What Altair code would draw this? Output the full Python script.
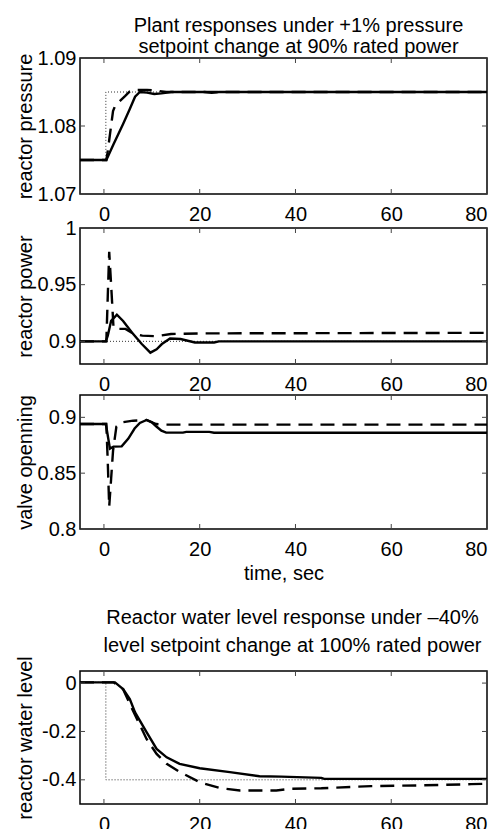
import altair as alt
import pandas as pd

FONT = "Liberation Sans"
TICK_COLOR = "#444444"

# ---------------- shared x axis ----------------
x_domain = [-5, 80]
x_ticks = [0, 20, 40, 60, 80]

# ---------------- panel 1: reactor pressure ----------------
p1_y_domain = [1.07, 1.09]
p1_y_ticks = [1.07, 1.08, 1.09]
p1_solid_t = [-5, 0.5, 2, 4, 5.4, 6.5, 7.5, 9, 10.5, 12, 14, 16, 21, 22.5, 24, 80]
p1_solid_v = [1.075, 1.075, 1.0773, 1.0803, 1.0825, 1.0843, 1.0850, 1.0849, 1.0847, 1.0848, 1.0850,
              1.0850, 1.0850, 1.0849, 1.0850, 1.0850]
p1_dash_t = [-5, 0.5, 0.7, 1.3, 1.9, 2.3, 3.2, 4.4, 5.4, 7, 9, 11, 13, 16, 80]
p1_dash_v = [1.075, 1.075, 1.0758, 1.0790, 1.0822, 1.0829, 1.0836, 1.0844, 1.0851, 1.0853, 1.0853,
             1.0852, 1.0850, 1.0850, 1.0850]
p1_sp_t = [-5, 0.4, 0.4, 80]
p1_sp_v = [1.075, 1.075, 1.085, 1.085]

# ---------------- panel 2: reactor power ----------------
p2_y_domain = [0.88, 1.0]
p2_y_ticks = [0.9, 0.95, 1.0]
p2_solid_t = [-5, 0.4, 0.8, 1.5, 2.7, 4, 5.8, 7.9, 9.7, 11, 12.1, 13.8, 16, 19, 23, 24, 80]
p2_solid_v = [0.9, 0.9, 0.905, 0.918, 0.9235, 0.918, 0.908, 0.8976, 0.890, 0.893, 0.8976, 0.9025,
              0.902, 0.899, 0.899, 0.9, 0.9]
p2_dash_t = [-5, 0.5, 0.8, 1.1, 1.5, 2.0, 3, 4.5, 6, 8, 11, 14, 20, 80]
p2_dash_v = [0.9, 0.9, 0.94, 0.979, 0.95, 0.912, 0.911, 0.911, 0.907, 0.905, 0.9045, 0.9065, 0.907,
             0.9075]
p2_sp_t = [-5, 80]
p2_sp_v = [0.9, 0.9]

# ---------------- panel 3: valve openning ----------------
p3_y_domain = [0.8, 0.92]
p3_y_ticks = [0.8, 0.85, 0.9]
p3_solid_t = [-5, 0.4, 1.25, 2, 3.7, 5.1, 6.4, 7.5, 8.9, 10, 10.9, 12, 13, 16.5, 17.2, 22, 23, 80]
p3_solid_v = [0.894, 0.894, 0.872, 0.8738, 0.874, 0.881, 0.890, 0.895, 0.8976, 0.8955, 0.892, 0.888,
              0.8863, 0.8863, 0.887, 0.887, 0.8862, 0.8862]
p3_dash_t = [-5, 0.5, 0.8, 1.1, 1.5, 1.9, 2.6, 3.7, 6.1, 8.9, 10.9, 12.5, 80]
p3_dash_v = [0.894, 0.894, 0.86, 0.820, 0.845, 0.870, 0.8917, 0.8955, 0.897, 0.8976, 0.894, 0.8935,
             0.8935]

# ---------------- panel 4: reactor water level ----------------
p4_y_domain = [-0.5, 0.05]
p4_y_ticks = [-0.4, -0.2, 0.0]
p4_solid_t = [-5, 2.3, 4, 5.4, 6.5, 8.9, 11, 13.1, 15.8, 20, 26.3, 32.5, 37, 45.4, 46, 80]
p4_solid_v = [0.003, 0.003, -0.025, -0.066, -0.121, -0.203, -0.272, -0.307, -0.334, -0.352, -0.368,
              -0.385, -0.387, -0.392, -0.396, -0.396]
p4_dash_t = [-5, 2.0, 4, 5.9, 8.9, 11, 13.1, 15.8, 20, 24.2, 28.4, 36, 39, 45.4, 55.8, 66.3, 76.7, 80]
p4_dash_v = [0.003, 0.003, -0.025, -0.107, -0.231, -0.293, -0.334, -0.367, -0.41, -0.434, -0.444,
             -0.444, -0.437, -0.435, -0.426, -0.423, -0.418, -0.416]
p4_sp_t = [-5, 0.4, 0.4, 80]
p4_sp_v = [0.003, 0.003, -0.4, -0.4]

W = 407

SOLID = dict(color="black", strokeWidth=2.4)
DASHED = dict(color="black", strokeWidth=2.4, strokeDash=[14, 8])
DOTTED = dict(color="#333333", strokeWidth=1, strokeDash=[1, 2])

LABEL_EXPR = "replace(format(datum.value, '~g'), '\u2212', '-')"


def make_df(t, v):
    return pd.DataFrame({"t": t, "v": v, "i": list(range(len(t)))})


def panel(series, y_domain, y_ticks, y_title, height, x_title=None, title=None, ytp=2):
    xaxis = dict(values=x_ticks, format="d", labelPadding=10, titlePadding=4)
    if x_title:
        xaxis["title"] = x_title
    else:
        xaxis["title"] = None
    xenc = alt.X("t:Q", scale=alt.Scale(domain=x_domain, nice=False, zero=False),
                 axis=alt.Axis(**xaxis))
    yenc = alt.Y("v:Q", scale=alt.Scale(domain=y_domain, nice=False, zero=False),
                 axis=alt.Axis(values=y_ticks, labelExpr=LABEL_EXPR, title=y_title,
                               labelPadding=4, titlePadding=ytp))
    layers = []
    for (t, v), style in series:
        layers.append(alt.Chart(make_df(t, v)).mark_line(clip=True, **style)
                      .encode(x=xenc, y=yenc, order="i:Q"))
    xt = pd.DataFrame({"t": x_ticks})
    yt = pd.DataFrame({"v": y_ticks})
    tick = dict(color=TICK_COLOR, strokeWidth=1)
    layers.append(alt.Chart(xt).mark_rule(**tick).encode(x=xenc, y=alt.value(height), y2=alt.value(height - 5)))
    layers.append(alt.Chart(xt).mark_rule(**tick).encode(x=xenc, y=alt.value(0), y2=alt.value(5)))
    layers.append(alt.Chart(yt).mark_rule(**tick).encode(y=yenc, x=alt.value(0), x2=alt.value(5)))
    layers.append(alt.Chart(yt).mark_rule(**tick).encode(y=yenc, x=alt.value(W), x2=alt.value(W - 5)))
    props = dict(width=W, height=height)
    if title is not None:
        props["title"] = title
    return alt.layer(*layers).properties(**props)


title1 = alt.TitleParams(
    text=["Plant responses under +1% pressure", "setpoint change at 90% rated power"],
    fontSize=20, lineHeight=21, anchor="middle", frame="group", dx=15, baseline="bottom",
    offset=-29, font=FONT, fontWeight="normal", color="black")
title4 = alt.TitleParams(
    text=["", "Reactor water level response under \u201340%"],
    subtitle="level setpoint change at 100% rated power",
    fontSize=20, lineHeight=30.5, anchor="middle", frame="group", dx=9, baseline="bottom",
    offset=-20, font=FONT, fontWeight="normal", color="black",
    subtitleFont=FONT, subtitleFontSize=20, subtitleColor="black", subtitleFontWeight="normal",
    subtitlePadding=8, subtitleLineHeight=20)

c1 = panel([((p1_sp_t, p1_sp_v), DOTTED), ((p1_dash_t, p1_dash_v), DASHED), ((p1_solid_t, p1_solid_v), SOLID)],
           p1_y_domain, p1_y_ticks, "reactor pressure", 136, title=title1)
c2 = panel([((p2_sp_t, p2_sp_v), DOTTED), ((p2_dash_t, p2_dash_v), DASHED), ((p2_solid_t, p2_solid_v), SOLID)],
           p2_y_domain, p2_y_ticks, "reactor power", 136)
c3 = panel([((p3_dash_t, p3_dash_v), DASHED), ((p3_solid_t, p3_solid_v), SOLID)],
           p3_y_domain, p3_y_ticks, "valve openning", 134, x_title="time, sec")
c4 = panel([((p4_sp_t, p4_sp_v), DOTTED), ((p4_dash_t, p4_dash_v), DASHED), ((p4_solid_t, p4_solid_v), SOLID)],
           p4_y_domain, p4_y_ticks, "reactor water level", 133, title=title4, ytp=6.5)

chart = (
    alt.vconcat(c1, c2, c3, c4, spacing=-8)
    .properties(padding={"left": 6, "top": 7, "right": 0, "bottom": 0})
    .configure_view(stroke="black", strokeWidth=1.5)
    .configure_axis(domain=False, ticks=False, grid=False, labelFont=FONT, labelFontSize=20,
                    labelColor="black", titleFont=FONT, titleFontSize=20, titleFontWeight="normal",
                    titleColor="black")
    .configure_title(font=FONT, fontSize=20, fontWeight="normal", color="black")
)

chart.save("out.html", embed_options={"renderer": "svg", "actions": False})
